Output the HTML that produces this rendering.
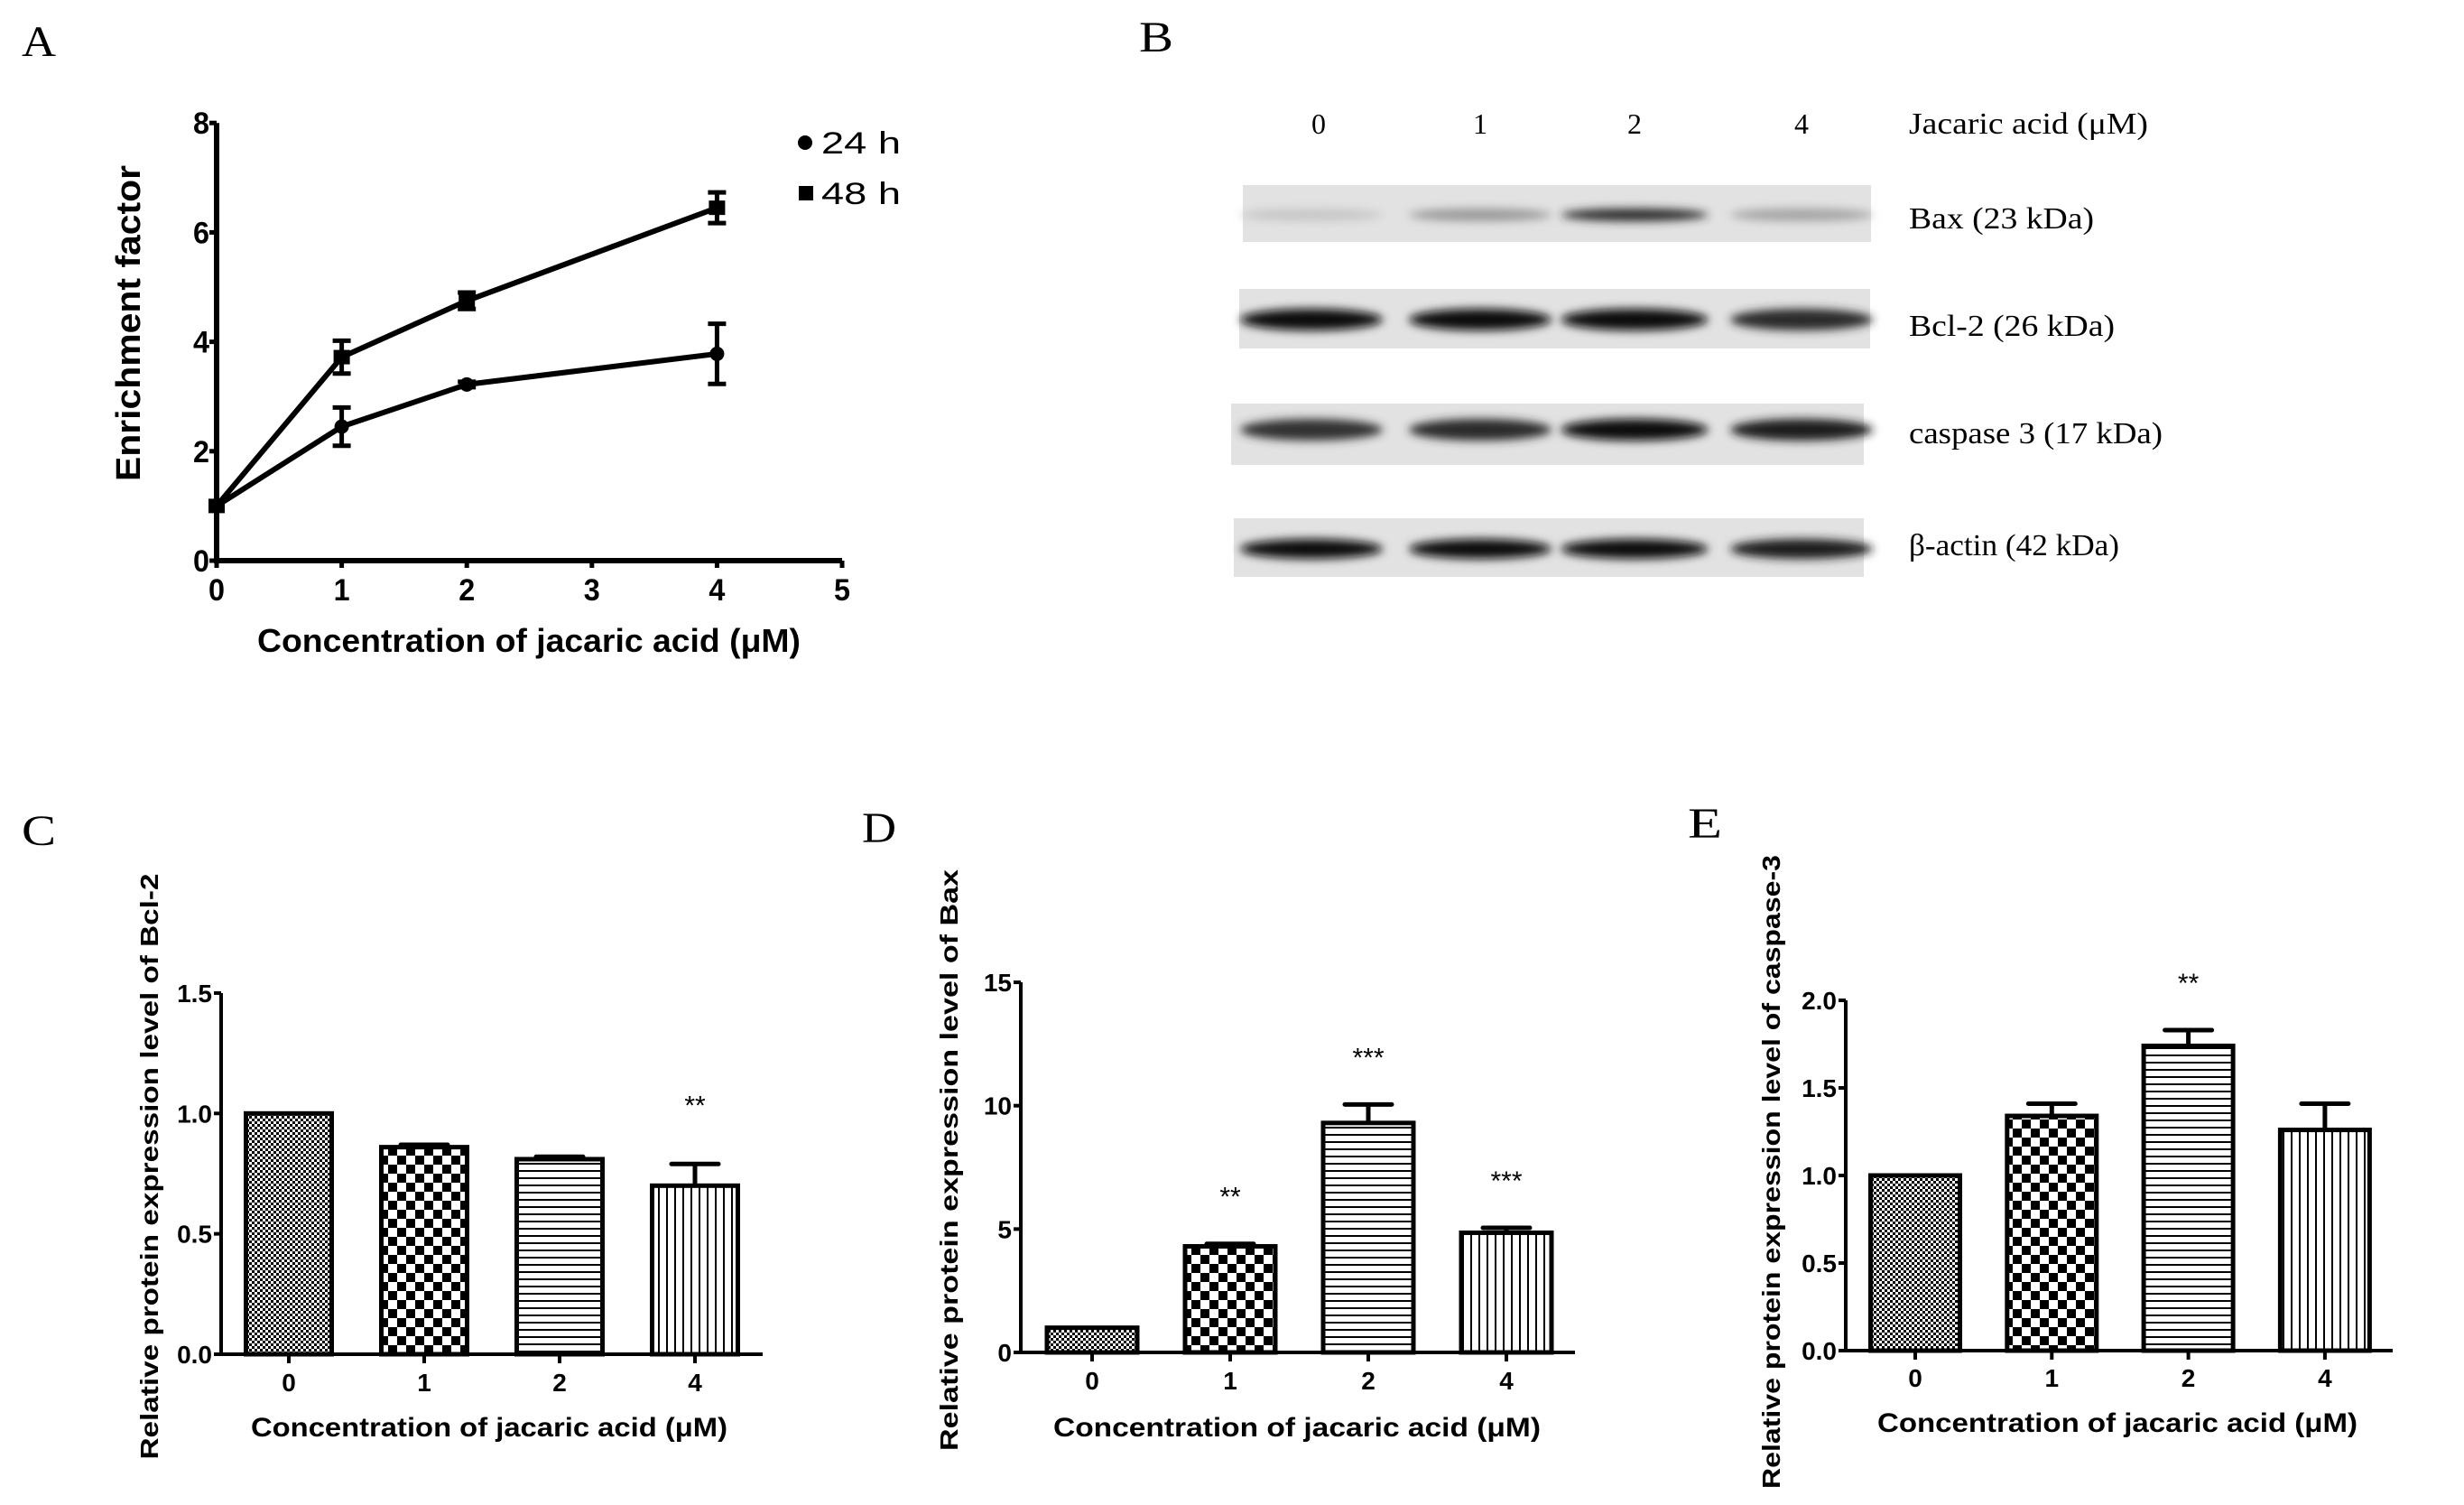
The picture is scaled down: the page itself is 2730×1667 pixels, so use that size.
<!DOCTYPE html>
<html><head><meta charset="utf-8"><style>
html,body{margin:0;padding:0;background:#fff;}
svg{display:block;}
text{font-family:"Liberation Sans",sans-serif;}
.serif{font-family:"Liberation Serif",serif;}
</style></head><body>
<svg id="fig" width="2730" height="1667" viewBox="0 0 2730 1667" xmlns="http://www.w3.org/2000/svg">
<defs>
 <pattern id="pFine" width="6" height="6" patternUnits="userSpaceOnUse"><rect width="6" height="6" fill="#fff"/><rect width="3" height="3" fill="#000"/><rect x="3" y="3" width="3" height="3" fill="#000"/></pattern>
 <pattern id="pCoarse" width="20" height="20" patternUnits="userSpaceOnUse"><rect width="20" height="20" fill="#fff"/><rect width="10" height="10" fill="#000"/><rect x="10" y="10" width="10" height="10" fill="#000"/></pattern>
 <pattern id="pHoriz" width="8" height="8" patternUnits="userSpaceOnUse"><rect width="8" height="8" fill="#fff"/><rect y="0" width="8" height="2" fill="#000"/></pattern>
 <pattern id="pVert" width="9" height="9" patternUnits="userSpaceOnUse"><rect width="9" height="9" fill="#fff"/><rect x="0" width="2" height="9" fill="#000"/></pattern>
 <filter id="blur" x="-20%" y="-100%" width="140%" height="300%"><feGaussianBlur stdDeviation="5"/></filter>
</defs>
<g id="root"></g>
</svg>
<script>
// ---------- Panel A data ----------
const aX = [0, 1, 2, 4];
const a24 = [1.0, 2.45, 3.22, 3.78];
const a24err = [0, 0.35, 0.05, 0.55];
const a48 = [1.0, 3.72, 4.75, 6.45];
const a48err = [0, 0.3, 0.15, 0.28];
const aYTicks = [0, 2, 4, 6, 8];
const aXTicks = [0, 1, 2, 3, 4, 5];
// ---------- Panels C, D, E data ----------
const barCats = ["0", "1", "2", "4"];
const cVals = [1.0, 0.86, 0.81, 0.70];
const cErr = [0, 0.01, 0.01, 0.09];
const cStars = ["", "", "", "**"];
const cTicks = ["0.0", "0.5", "1.0", "1.5"];
const dVals = [1.0, 4.3, 9.3, 4.85];
const dErr = [0, 0.1, 0.75, 0.2];
const dStars = ["", "**", "***", "***"];
const dTicks = ["0", "5", "10", "15"];
const eVals = [1.0, 1.34, 1.74, 1.26];
const eErr = [0, 0.07, 0.09, 0.15];
const eStars = ["", "", "**", ""];
const eTicks = ["0.0", "0.5", "1.0", "1.5", "2.0"];
// ---------- Panel B blot data (relative band intensity) ----------
const blotLanes = ["0", "1", "2", "4"];
const baxBand = [0.08, 0.3, 0.85, 0.25];
const bclBand = [1.0, 0.97, 1.0, 0.85];
const casBand = [0.8, 0.85, 1.0, 0.9];
const actBand = [1.0, 1.0, 1.0, 0.92];

const NS = "http://www.w3.org/2000/svg";
const root = document.getElementById("root");
function mk(tag, attrs, parent) {
  const e = document.createElementNS(NS, tag);
  for (const k in attrs) e.setAttribute(k, attrs[k]);
  (parent || root).appendChild(e);
  return e;
}
function txt(s, attrs, parent) { const t = mk("text", attrs, parent); t.textContent = s; return t; }

// panel letters
[["A",24,62],["B",1262,57],["C",24,936],["D",955,933],["E",1870,928]].forEach(function(p){
  const t = txt(p[0], {x:p[1], y:p[2], "font-size":48, class:"serif", fill:"#000", textLength:38, lengthAdjust:"spacingAndGlyphs"});
  
  
});

// ================= Panel A =================
(function(){
  const g = mk("g", {});
  
  
  const x0 = 240, xu = 138.6, y0 = 621, yu = 60.6;
  const X = v => x0 + v * xu, Y = v => y0 - v * yu;
  const ax = mk("path", {d:`M${X(0)},${Y(8)} V${Y(0)} H${X(5)}`, stroke:"#000", "stroke-width":6, fill:"none"}, g);
  
  
  aYTicks.forEach(function(v){
    mk("line", {x1:X(0)-8, x2:X(0), y1:Y(v), y2:Y(v), stroke:"#000","stroke-width":5}, g);
    const t = txt(String(v), {x:X(0)-8, y:Y(v)+12, "text-anchor":"end", "font-size":34, "font-weight":"bold", textLength:18, lengthAdjust:"spacingAndGlyphs"}, g);
    
    
  });
  aXTicks.forEach(function(v){
    mk("line", {x1:X(v), x2:X(v), y1:Y(0), y2:Y(0)+8, stroke:"#000","stroke-width":5}, g);
    const t = txt(String(v), {x:X(v), y:Y(0)+44, "text-anchor":"middle", "font-size":34, "font-weight":"bold", textLength:18, lengthAdjust:"spacingAndGlyphs"}, g);
    
    
  });
  const yt = txt("Enrichment factor", {x:0, y:0, "font-size":38, "font-weight":"bold", textLength:350, lengthAdjust:"spacingAndGlyphs", "text-anchor":"middle", transform:"translate(155,358) rotate(-90)"}, g);
  
  
  const xt = txt("Concentration of jacaric acid (μM)", {x:586, y:722, "font-size":36, "font-weight":"bold", textLength:602, lengthAdjust:"spacingAndGlyphs", "text-anchor":"middle"}, g);
  
  
  function series(vals, errs, name, square) {
    const pts = aX.map((v,i)=>X(v)+","+Y(vals[i])).join(" ");
    const pl = mk("polyline", {points:pts, fill:"none", stroke:"#000", "stroke-width":6}, g);
    
    
    aX.forEach(function(v,i){
      if (errs[i] > 0) {
        const eb = mk("path", {d:`M${X(v)},${Y(vals[i]+errs[i])} V${Y(vals[i]-errs[i])} M${X(v)-10},${Y(vals[i]+errs[i])} H${X(v)+10} M${X(v)-10},${Y(vals[i]-errs[i])} H${X(v)+10}`, stroke:"#000","stroke-width":5, fill:"none"}, g);
        
        
      }
      const m = square ? mk("rect", {x:X(v)-9, y:Y(vals[i])-8, width:18, height:16, fill:"#000"}, g)
                       : mk("circle", {cx:X(v), cy:Y(vals[i]), r:8, fill:"#000"}, g);
      
      
    });
  }
  series(a24, a24err, "series-24h", false);
  series(a48, a48err, "series-48h", true);
  const l1 = mk("circle", {cx:892, cy:158, r:8, fill:"#000"}, g);
  
  
  const lt1 = txt("24 h", {x:910, y:170, "font-size":34, textLength:88, lengthAdjust:"spacingAndGlyphs"}, g);
  
  
  const l2 = mk("rect", {x:885, y:206, width:16, height:16, fill:"#000"}, g);
  
  
  const lt2 = txt("48 h", {x:910, y:226, "font-size":34, textLength:88, lengthAdjust:"spacingAndGlyphs"}, g);
  
  
})();

// ================= Panel B =================
(function(){
  const g = mk("g", {});
  
  
  const laneX = [1461, 1640, 1811, 1996];
  const laneW = [150, 150, 155, 150];
  blotLanes.forEach(function(l,i){
    const t = txt(l, {x:laneX[i], y:148, "font-size":32, class:"serif", "text-anchor":"middle"}, g);
    
    
  });
  const hdr = txt("Jacaric acid (μM)", {x:2115, y:148, "font-size":34, class:"serif", textLength:265, lengthAdjust:"spacingAndGlyphs"}, g);
  
  
  const rows = [
    {name:"bax", label:"Bax (23 kDa)", x:1377, y:205, w:696, h:63, by:238, bh:8, vals:baxBand, ly:253, lw:205},
    {name:"bcl2", label:"Bcl-2 (26 kDa)", x:1373, y:320, w:699, h:66, by:354, bh:18, vals:bclBand, ly:372, lw:228},
    {name:"caspase3", label:"caspase 3 (17 kDa)", x:1364, y:447, w:701, h:68, by:476, bh:18, vals:casBand, ly:491, lw:281},
    {name:"beta-actin", label:"β-actin (42 kDa)", x:1367, y:574, w:698, h:65, by:608, bh:16, vals:actBand, ly:615, lw:233}
  ];
  rows.forEach(function(r){
    const bg = mk("rect", {x:r.x, y:r.y, width:r.w, height:r.h, fill:"#e2e2e2"}, g);
    
    
    r.vals.forEach(function(v,i){
      const shade = Math.round(215 - 205 * v);
      const e = mk("ellipse", {cx:laneX[i]+ (i===0?-8:0), cy:r.by, rx:laneW[i]/2 + 4, ry:r.bh/2 + 3, fill:`rgb(${shade},${shade},${shade})`, filter:"url(#blur)"}, g);
      
      
    });
    const t = txt(r.label, {x:2115, y:r.ly, "font-size":34, class:"serif", textLength:r.lw, lengthAdjust:"spacingAndGlyphs"}, g);
    
    
  });
})();

// ================= Bar panels =================
const pats = ["url(#pFine)", "url(#pCoarse)", "url(#pHoriz)", "url(#pVert)"];
function barPanel(cfg) {
  const g = mk("g", {});
  
  
  const Y = v => cfg.y0 - v * cfg.yu;
  const ax = mk("path", {d:`M${cfg.ax},${Y(cfg.ymax)} V${cfg.y0} H${cfg.axEnd}`, stroke:"#000","stroke-width":4, fill:"none"}, g);
  
  
  cfg.ticks.forEach(function(tl){
    const v = parseFloat(tl);
    mk("line", {x1:cfg.ax-8, x2:cfg.ax, y1:Y(v), y2:Y(v), stroke:"#000","stroke-width":4}, g);
    const t = txt(tl, {x:cfg.ax-10, y:Y(v)+10, "text-anchor":"end", "font-size":28, "font-weight":"bold"}, g);
    
    
  });
  barCats.forEach(function(c,i){
    const cx = cfg.x0 + i * cfg.step;
    const v = cfg.vals[i], e = cfg.err[i];
    const bw = cfg.bw;
    if (e > 0) {
      const eb = mk("path", {d:`M${cx},${Y(v)} V${Y(v+e)} M${cx-26},${Y(v+e)} H${cx+26}`, stroke:"#000","stroke-width":5, fill:"none", "stroke-linecap":"round"}, g);
      
      
    }
    const b = mk("rect", {x:cx-bw/2, y:Y(v), width:bw, height:cfg.y0 - Y(v), fill:pats[i], stroke:"#000", "stroke-width":5}, g);
    
    
    mk("line", {x1:cx, x2:cx, y1:cfg.y0, y2:cfg.y0+10, stroke:"#000","stroke-width":4}, g);
    const t = txt(c, {x:cx, y:cfg.tickY, "text-anchor":"middle", "font-size":28, "font-weight":"bold"}, g);
    
    
    if (cfg.stars[i]) {
      const s = txt(cfg.stars[i], {x:cx, y:Y(v+e) - cfg.starGap, "text-anchor":"middle", "font-size":30}, g);
      
      
    }
  });
  const yt = txt(cfg.ytitle, {x:0, y:0, "font-size":28, "font-weight":"bold", "text-anchor":"middle", textLength:cfg.ytLen, lengthAdjust:"spacingAndGlyphs", transform:`translate(${cfg.ytx},${cfg.yty}) rotate(-90)`}, g);
  
  
  const xt = txt("Concentration of jacaric acid (μM)", {x:cfg.xtx, y:cfg.xty, "font-size":30, "font-weight":"bold", "text-anchor":"middle", textLength:cfg.xtLen, lengthAdjust:"spacingAndGlyphs"}, g);
  
  
}
barPanel({name:"panel-c-bar-chart", prefix:"c", ax:245, axEnd:845, y0:1500, yu:266.7, ymax:1.5, x0:320, step:150, bw:95,
  vals:cVals, err:cErr, stars:cStars, ticks:cTicks, starGap:55, tickY:1541,
  ytitle:"Relative protein expression level of Bcl-2", ytx:175, yty:1292, ytLen:649,
  xtx:542, xty:1591, xtLen:528});
barPanel({name:"panel-d-bar-chart", prefix:"d", ax:1131, axEnd:1745, y0:1498, yu:27.33, ymax:15, x0:1210, step:153, bw:100,
  vals:dVals, err:dErr, stars:dStars, ticks:dTicks, starGap:42, tickY:1539,
  ytitle:"Relative protein expression level of Bax", ytx:1061, yty:1285, ytLen:644,
  xtx:1437, xty:1591, xtLen:540});
barPanel({name:"panel-e-bar-chart", prefix:"e", ax:2045, axEnd:2651, y0:1496, yu:194, ymax:2.0, x0:2122, step:151.3, bw:99,
  vals:eVals, err:eErr, stars:eStars, ticks:eTicks, starGap:42, tickY:1536,
  ytitle:"Relative protein expression level of caspase-3", ytx:1972, yty:1298, ytLen:702,
  xtx:2346, xty:1586, xtLen:532});
</script>
</body></html>
